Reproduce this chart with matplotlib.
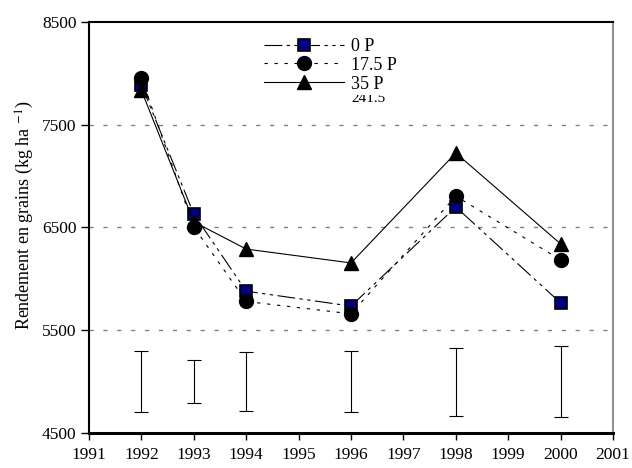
import matplotlib
matplotlib.use("Agg")
import matplotlib.pyplot as plt
from matplotlib.patches import Rectangle

years = [1992, 1993, 1994, 1996, 1998, 2000]
p0 = [7890, 6630, 5880, 5735, 6700, 5765]
p175 = [7955, 6505, 5780, 5660, 6805, 6185]
p35 = [7835, 6555, 6290, 6155, 7225, 6340]
err_center = [5000, 5000, 5000, 5000, 5000, 5000]
err_half = [295, 210, 285, 300, 330, 345]
xticks = list(range(1991, 2002))
yticks = [4500, 5500, 6500, 7500, 8500]
grid_y = [5500, 6500, 7500]

plt.rcParams['font.family'] = ['Liberation Serif', 'DejaVu Serif']
plt.rcParams['mathtext.fontset'] = 'stix'

fig = plt.figure(figsize=(6.32, 4.68), dpi=100)
ax = fig.add_axes([0.1408, 0.0748, 0.8292, 0.8782])

for g in grid_y:
    ax.axhline(g, color='#808080', lw=1.0, linestyle=(0, (3, 7)), zorder=1)

ax.errorbar(years, err_center, yerr=err_half, fmt='none', ecolor='black',
            elinewidth=0.8, capsize=5, capthick=0.8, zorder=2)

ax.plot(years, p0, color='black', lw=0.8, linestyle=(0, (16, 4, 3, 4, 3, 4)),
        marker='s', markersize=9, markerfacecolor='#000080',
        markeredgecolor='black', markeredgewidth=1.2, label='0 P', zorder=3)
ax.plot(years, p175, color='black', lw=0.8, linestyle=(0, (3, 6)),
        marker='o', markersize=10, markerfacecolor='black',
        markeredgecolor='black', label='17.5 P', zorder=4)
ax.plot(years, p35, color='black', lw=0.8, linestyle='-',
        marker='^', markersize=10, markerfacecolor='black',
        markeredgecolor='black', label='35 P', zorder=5)

# partially hidden annotation (top of it is masked, as in the reference)
ax.text(1996.0, 7720, '241.5', fontsize=11, ha='left', va='baseline', zorder=6)
ax.add_patch(Rectangle((1995.8, 7785), 1.4, 300, facecolor='white',
                       edgecolor='none', zorder=7))

leg = ax.legend(loc='upper left', bbox_to_anchor=(0.31, 0.992), frameon=False,
                fontsize=13, handlelength=4.4, handletextpad=0.4,
                labelspacing=0.1, borderpad=0.2)
leg.set_zorder(8)

ax.set_xlim(1991, 2001)
ax.set_ylim(4500, 8500)
ax.set_xticks(xticks)
ax.set_yticks(yticks)
ax.tick_params(axis='both', direction='out', labelsize=12.5, width=1.0, color='black')
ax.tick_params(axis='y', length=6, pad=3)
ax.tick_params(axis='x', length=5, pad=5)

ax.spines['left'].set_linewidth(1.5)
ax.spines['bottom'].set_linewidth(2.2)
ax.spines['top'].set_linewidth(1.5)
ax.spines['right'].set_linewidth(1.5)
ax.spines['right'].set_color('#909090')

ax.set_ylabel('Rendement en grains (kg ha $^{-1}$)', fontsize=13)
ax.yaxis.set_label_coords(-0.102, 0.53)

fig.savefig('out.png', dpi=100)
